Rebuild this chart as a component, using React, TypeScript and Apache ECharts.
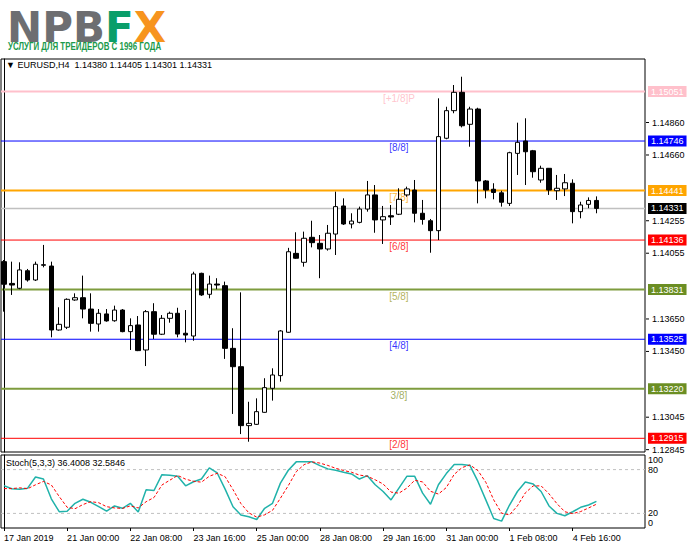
import { useEffect, useRef } from "react";
import * as echarts from "echarts";

// EURUSD H4, 17 Jan 2019 16:00 .. 5 Feb 2019 04:00 (one value per bar)
const opens = [
  1.14003, 1.13869, 1.13839, 1.13947, 1.1389, 1.13984, 1.13976, 1.13582, 1.13599, 1.13767,
  1.13781, 1.13711, 1.13619, 1.13681, 1.13639, 1.13705, 1.13572, 1.13613, 1.13459, 1.13695,
  1.13556, 1.13654, 1.13685, 1.13562, 1.13545, 1.13931, 1.13802, 1.13865, 1.13855, 1.13469,
  1.13356, 1.12993, 1.13001, 1.13075, 1.13223, 1.13301, 1.13568, 1.14054, 1.13999, 1.14153,
  1.14116, 1.14081, 1.14173, 1.14346, 1.14235, 1.14245, 1.14327, 1.14414, 1.1426, 1.14286,
  1.14295, 1.14414, 1.14444, 1.14301, 1.14255, 1.14194, 1.14763, 1.14933, 1.15046, 1.14849,
  1.14943, 1.145, 1.14449, 1.14427, 1.14362, 1.1467, 1.14746, 1.14686, 1.14506, 1.14578,
  1.1444, 1.14451, 1.14486, 1.14311, 1.14356, 1.1438,
];
const highs = [
  1.14013, 1.14003, 1.13999, 1.13958, 1.14003, 1.14106, 1.14003, 1.13722, 1.13777, 1.13808,
  1.13917, 1.13808, 1.13711, 1.13711, 1.13732, 1.13711, 1.13654, 1.13668, 1.13705, 1.13747,
  1.13674, 1.13695, 1.13719, 1.13705, 1.13941, 1.13935, 1.13917, 1.13901, 1.1388, 1.13593,
  1.13814, 1.1314, 1.13161, 1.13285, 1.13346, 1.13582, 1.14088, 1.14184, 1.14188, 1.14255,
  1.14167, 1.14229, 1.14434, 1.14393, 1.14301, 1.14342, 1.145, 1.14475, 1.14346, 1.14352,
  1.14455, 1.14465, 1.14506, 1.14383, 1.14266, 1.15009, 1.14957, 1.15091, 1.15142, 1.14957,
  1.14951, 1.14506, 1.14486, 1.1444, 1.1468, 1.14859, 1.14886, 1.14691, 1.14594, 1.1458,
  1.14537, 1.14543, 1.1451, 1.14372, 1.14399, 1.14405,
];
const lows = [
  1.13695, 1.13798, 1.13833, 1.1388, 1.13884, 1.13968, 1.13537, 1.13578, 1.13588, 1.13762,
  1.13654, 1.13572, 1.13572, 1.13633, 1.13633, 1.13568, 1.13459, 1.13452, 1.1336, 1.13527,
  1.13551, 1.13627, 1.13537, 1.13506, 1.13516, 1.13792, 1.13777, 1.13833, 1.13404, 1.13065,
  1.12941, 1.12894, 1.12997, 1.13073, 1.13147, 1.13264, 1.13565, 1.1402, 1.13972, 1.14091,
  1.13901, 1.14071, 1.14044, 1.14229, 1.14208, 1.14239, 1.14311, 1.14181, 1.14112, 1.14229,
  1.1429, 1.14403, 1.14245, 1.14231, 1.14058, 1.14136, 1.14757, 1.14917, 1.1483, 1.14711,
  1.14362, 1.14393, 1.14387, 1.14342, 1.14346, 1.14537, 1.14475, 1.1452, 1.14489, 1.14414,
  1.14383, 1.14407, 1.14239, 1.1427, 1.14332, 1.14301,
];
const closes = [
  1.13864, 1.13859, 1.13952, 1.1389, 1.13987, 1.13981, 1.13582, 1.13617, 1.13771, 1.13781,
  1.13711, 1.13623, 1.13685, 1.13638, 1.13705, 1.13572, 1.13609, 1.13455, 1.13695, 1.13556,
  1.13654, 1.13685, 1.13557, 1.13551, 1.13927, 1.13798, 1.13865, 1.13859, 1.13469, 1.13356,
  1.12993, 1.13007, 1.13079, 1.13227, 1.13305, 1.13576, 1.14064, 1.14024, 1.14147, 1.1412,
  1.14081, 1.14178, 1.14342, 1.14235, 1.14253, 1.14327, 1.14414, 1.1426, 1.1428, 1.14278,
  1.14387, 1.14451, 1.14301, 1.14263, 1.14194, 1.14773, 1.14933, 1.15046, 1.1484, 1.14943,
  1.145, 1.14444, 1.14429, 1.14369, 1.14674, 1.14738, 1.1468, 1.14557, 1.14578, 1.14444,
  1.14455, 1.14489, 1.14311, 1.14352, 1.1438, 1.14331,
];

// Stochastic (5,3,3)
const stochK = [
  58, 53.7, 53.2, 54.6, 69.8, 67.1, 40, 22.3, 23, 33.8,
  39.4, 35.2, 29.2, 23.2, 30.2, 27, 33.8, 21.8, 52.3, 51.4,
  73, 72.2, 70.8, 57.8, 63.4, 67.1, 82.3, 75.4, 53.2, 29.2,
  17.7, 15.4, 11.7, 27, 33.8, 61.5, 79.1, 90.6, 90.6, 90.6,
  85.5, 81, 79, 76.3, 74, 67.1, 71.7, 59.2, 50, 38.5,
  54.6, 70.8, 70.8, 47.7, 32.5, 59.2, 74.5, 86.9, 86.9, 85.5,
  63.8, 38.5, 13.1, 9.4, 31.5, 50, 62.9, 60.2, 50, 30.2,
  20, 16.8, 22.3, 28.3, 31.5, 36.4008,
];
const stochD = [
  54, 54, 55, 53.8, 59.2, 63.8, 59, 43.1, 28.4, 26.4,
  32.1, 36.1, 34.6, 29.2, 27.5, 26.8, 30.3, 27.5, 36, 41.8,
  58.9, 65.5, 72, 66.9, 64, 62.8, 70.9, 74.9, 70.3, 52.6,
  33.4, 20.8, 14.9, 18, 24.2, 40.8, 58.1, 77.1, 86.8, 90.6,
  88.9, 85.7, 81.8, 78.8, 76.4, 72.5, 70.9, 66, 60.3, 49.2,
  47.7, 54.6, 65.4, 63.1, 50.3, 46.5, 55.4, 73.5, 82.8, 86.4,
  78.7, 62.6, 38.5, 20.3, 18, 30.3, 48.1, 57.7, 57.7, 46.8,
  33.4, 22.3, 19.7, 22.5, 27.4, 32.5846,
];

// Murray math levels
const levelNames = ["[+1/8]P", "[8/8]", "[7/8]", "[6/8]", "[5/8]", "[4/8]", "3/8]", "[2/8]"];
const levelValues = [1.15051, 1.14746, 1.14441, 1.14136, 1.13831, 1.13525, 1.1322, 1.12915];
const levelColors = ["#ffc0cb", "#0000ff", "#ffa500", "#ff0000", "#7e9c3e", "#0000ff", "#7e9c3e", "#ff0000"];
const boxColors = ["#ffc0cb", "#0000ff", "#ffa500", "#ff0000", "#6b8e23", "#0000ff", "#6b8e23", "#ff0000"];
const levelWidths = [2, 1, 2, 1, 2, 1, 2, 1];
const levelTextColors = ["#ffb6c1", "#0000ff", "#ffa500", "#ff0000", "#a0a030", "#0000ff", "#8a9a3a", "#ff0000"];
const levelLabelBar = 50;

const priceTicks = [1.1486, 1.1466, 1.14255, 1.14055, 1.1365, 1.1345, 1.13045, 1.12845];
// MT4 keeps the 0 and 100 labels inside the panel
const stochTickPos = [7.5, 20, 80, 92.5];
const stochTickText = ["0", "20", "80", "100"];
const stochLevels = [20, 80];
const dateLabels = [
  "17 Jan 2019", "21 Jan 00:00", "22 Jan 08:00", "23 Jan 16:00", "25 Jan 00:00",
  "28 Jan 08:00", "29 Jan 16:00", "31 Jan 00:00", "1 Feb 08:00", "4 Feb 16:00",
];
const dateLabelBars = [0, 8, 16, 24, 32, 40, 48, 56, 64, 72];

const X_MIN = -0.37;
const X_MAX = 81.15;
const P_MIN = 1.128306;
const P_MAX = 1.152512;
const FONT = "'Liberation Sans', Arial, sans-serif";

export default function App() {
  const chartRef = useRef<HTMLDivElement>(null);

  useEffect(() => {
    if (!chartRef.current) return;
    const chart = echarts.init(chartRef.current, undefined, { renderer: "svg" });

    const last = opens.length - 1;
    const candleData = opens.map((o, i) => [i, o, closes[i], lows[i], highs[i]]);
    const header =
      "\u25BC EURUSD,H4  " +
      [opens[last], highs[last], lows[last], closes[last]].map((v) => v.toFixed(5)).join(" ");
    const stochHeader = `Stoch(5,3,3) ${stochK[last].toFixed(4)} ${stochD[last].toFixed(4)}`;

    const levelLine = (value: number, color: string, width: number, boxColor: string, name: string) => ({
      name,
      type: "line",
      xAxisIndex: 0,
      yAxisIndex: 0,
      z: 2,
      silent: true,
      symbol: "none",
      clip: false,
      lineStyle: { color, width, type: "solid" },
      data: [
        [X_MIN, value],
        [X_MAX, value],
      ],
      endLabel: {
        show: true,
        distance: 3,
        formatter: () => value.toFixed(5),
        color: "#fff",
        backgroundColor: boxColor,
        padding: [1, 3, 0, 3],
        fontSize: 9,
        lineHeight: 10,
        fontFamily: FONT,
      },
    });

    const option: any = {
      animation: false,
      backgroundColor: "#fff",
      textStyle: { fontFamily: FONT },
      grid: [
        { left: 1, top: 59, width: 644, height: 393, show: true, borderColor: "#000", borderWidth: 1, backgroundColor: "#fff" },
        { left: 1, top: 455, width: 644, height: 73, show: true, borderColor: "#000", borderWidth: 1, backgroundColor: "#fff" },
      ],
      xAxis: [
        { type: "value", gridIndex: 0, min: X_MIN, max: X_MAX, show: false },
        {
          type: "value",
          gridIndex: 1,
          min: X_MIN,
          max: X_MAX,
          axisLine: { show: false },
          splitLine: { show: false },
          axisTick: { show: true, customValues: dateLabelBars, length: 3, lineStyle: { color: "#000" } },
          axisLabel: {
            customValues: dateLabelBars,
            formatter: (v: number) => dateLabels[dateLabelBars.indexOf(Math.round(v))] ?? "",
            align: "left",
            margin: 5,
            fontSize: 9,
            color: "#000",
          },
        },
      ],
      yAxis: [
        {
          type: "value",
          gridIndex: 0,
          position: "right",
          min: P_MIN,
          max: P_MAX,
          axisLine: { show: true, lineStyle: { color: "#000" } },
          axisTick: { show: false },
          axisLabel: {
            customValues: priceTicks,
            formatter: (v: number) => `{t|}{v|${v.toFixed(5)}}`,
            rich: {
              t: { width: 3, height: 1, backgroundColor: "#000" },
              v: { padding: [0, 0, 0, 3], fontSize: 9, color: "#000" },
            },
            fontSize: 9,
            margin: 1,
            color: "#000",
          },
          splitLine: { show: false },
        },
        {
          type: "value",
          gridIndex: 1,
          position: "right",
          min: 0,
          max: 100,
          axisLine: { show: true, lineStyle: { color: "#000" } },
          axisTick: { show: false },
          axisLabel: {
            customValues: stochTickPos,
            formatter: (v: number) => stochTickText[stochTickPos.indexOf(v)] ?? "",
            fontSize: 9,
            margin: 3,
            color: "#000",
          },
          splitLine: { show: false },
        },
      ],
      graphic: [
        {
          type: "text",
          left: 7,
          top: 6,
          style: {
            text: "{a|NPB}{b|F}{c|X}",
            rich: {
              a: { fontSize: 42, lineHeight: 32, fontWeight: "bold", fontFamily: "'DejaVu Sans', sans-serif", fill: "#6d6e71" },
              b: { fontSize: 42, lineHeight: 32, fontWeight: "bold", fontFamily: "'DejaVu Sans', sans-serif", fill: "#0a9e6a" },
              c: { fontSize: 42, lineHeight: 32, fontWeight: "bold", fontFamily: "'DejaVu Sans', sans-serif", fill: "#f7941e" },
            },
          },
        },
        {
          type: "text",
          x: 8,
          y: 40,
          scaleX: 0.72,
          style: {
            text: "УСЛУГИ ДЛЯ ТРЕЙДЕРОВ С 1996 ГОДА",
            fontSize: 11,
            fontWeight: "bold",
            fontFamily: "'Liberation Sans', sans-serif",
            fill: "#1b9a4b",
          },
        },
        {
          type: "text",
          left: 6,
          top: 60,
          z: 10,
          style: { text: header, fontSize: 9, fontFamily: FONT, fill: "#000" },
        },
        {
          type: "text",
          left: 6,
          top: 458,
          z: 10,
          style: { text: stochHeader, fontSize: 9, fontFamily: FONT, fill: "#000" },
        },
      ],
      series: [
        {
          name: "murray-labels",
          type: "scatter",
          xAxisIndex: 0,
          yAxisIndex: 0,
          z: 1,
          symbolSize: 1,
          itemStyle: { color: "transparent" },
          silent: true,
          data: levelValues.map((v, i) => ({
            value: [levelLabelBar, v],
            label: {
              show: true,
              position: "bottom",
              distance: 1,
              formatter: levelNames[i],
              color: levelTextColors[i],
              fontSize: 10,
              fontFamily: FONT,
            },
          })),
        },
        ...levelValues.map((v, i) => levelLine(v, levelColors[i], levelWidths[i], boxColors[i], levelNames[i])),
        levelLine(closes[last], "#c0c0c0", 1.5, "#000", "bid"),
        {
          name: "EURUSD",
          type: "candlestick",
          xAxisIndex: 0,
          yAxisIndex: 0,
          z: 3,
          barWidth: 5,
          encode: { x: 0, y: [1, 2, 3, 4] },
          itemStyle: {
            color: "#fff",
            color0: "#000",
            borderColor: "#000",
            borderColor0: "#000",
            borderWidth: 1,
          },
          data: candleData,
        },
        ...stochLevels.map((v) => ({
          name: `level ${v}`,
          type: "line",
          xAxisIndex: 1,
          yAxisIndex: 1,
          silent: true,
          symbol: "none",
          lineStyle: { color: "#c0c0c0", type: [3, 3], width: 1 },
          data: [
            [X_MIN, v],
            [X_MAX, v],
          ],
        })),
        {
          name: "%K",
          type: "line",
          xAxisIndex: 1,
          yAxisIndex: 1,
          symbol: "none",
          lineStyle: { color: "#20b2aa", width: 1.5 },
          data: stochK.map((v, i) => [i, v]),
        },
        {
          name: "%D",
          type: "line",
          xAxisIndex: 1,
          yAxisIndex: 1,
          symbol: "none",
          lineStyle: { color: "#ff0000", width: 1, type: [3, 2] },
          data: stochD.map((v, i) => [i, v]),
        },
      ],
    };

    chart.setOption(option);
    return () => chart.dispose();
  }, []);

  return (
    <div
      ref={chartRef}
      style={{ position: "fixed", left: 0, top: 0, width: "691px", height: "549px" }}
    />
  );
}
